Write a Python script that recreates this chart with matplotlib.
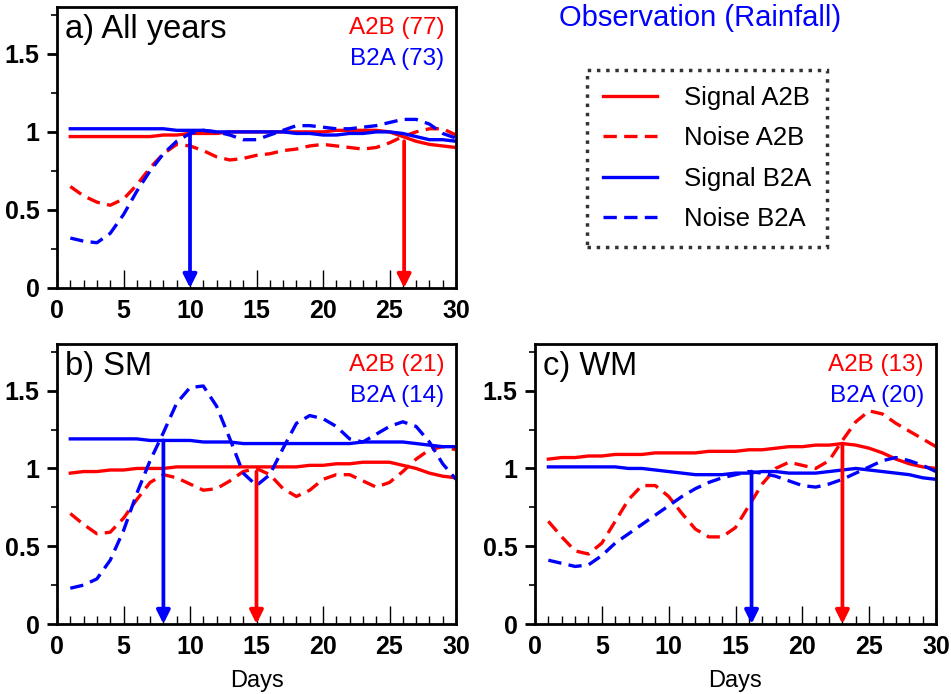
import matplotlib
matplotlib.use("Agg")
from matplotlib import pyplot as plt
from matplotlib.lines import Line2D
from matplotlib.ticker import MultipleLocator, FixedLocator, FuncFormatter
import numpy as np

plt.rcParams['font.family'] = ['Liberation Sans', 'DejaVu Sans']

days = np.arange(1, 31)

# a) All years
a_sig_a2b = [0.97, 0.97, 0.97, 0.97, 0.97, 0.97, 0.97, 0.98, 0.98, 0.99,
             0.99, 0.99, 1.00, 1.00, 1.00, 1.00, 1.00, 1.00, 1.00, 1.00,
             1.01, 1.01, 1.01, 1.01, 1.00, 0.97, 0.94, 0.92, 0.91, 0.90]
a_noise_a2b = [0.65, 0.59, 0.55, 0.53, 0.57, 0.66, 0.77, 0.86, 0.92, 0.91,
               0.88, 0.84, 0.82, 0.83, 0.85, 0.86, 0.88, 0.89, 0.91, 0.92,
               0.91, 0.90, 0.89, 0.90, 0.93, 0.97, 1.00, 1.02, 1.02, 0.98]
a_sig_b2a = [1.02, 1.02, 1.02, 1.02, 1.02, 1.02, 1.02, 1.02, 1.01, 1.01,
             1.01, 1.00, 1.00, 1.00, 1.00, 1.00, 1.00, 0.99, 0.99, 0.98,
             0.98, 0.99, 0.99, 1.00, 1.00, 0.99, 0.97, 0.95, 0.95, 0.94]
a_noise_b2a = [0.32, 0.30, 0.29, 0.35, 0.47, 0.62, 0.75, 0.86, 0.94, 0.99,
               1.01, 1.00, 0.98, 0.95, 0.95, 0.98, 1.01, 1.04, 1.04, 1.03,
               1.02, 1.02, 1.03, 1.04, 1.06, 1.08, 1.08, 1.05, 0.99, 0.96]

# b) SM
b_sig_a2b = [0.97, 0.98, 0.98, 0.99, 0.99, 1.00, 1.00, 1.00, 1.01, 1.01,
             1.01, 1.01, 1.01, 1.01, 1.01, 1.01, 1.01, 1.01, 1.02, 1.02,
             1.03, 1.03, 1.04, 1.04, 1.04, 1.02, 1.00, 0.97, 0.95, 0.94]
b_noise_a2b = [0.71, 0.64, 0.58, 0.59, 0.68, 0.80, 0.91, 0.96, 0.94, 0.90,
               0.86, 0.87, 0.92, 0.98, 1.00, 0.96, 0.87, 0.82, 0.86, 0.93,
               0.96, 0.96, 0.92, 0.88, 0.91, 0.98, 1.06, 1.12, 1.14, 1.12]
b_sig_b2a = [1.19, 1.19, 1.19, 1.19, 1.19, 1.19, 1.18, 1.18, 1.18, 1.18,
             1.17, 1.17, 1.17, 1.16, 1.16, 1.16, 1.16, 1.16, 1.16, 1.16,
             1.16, 1.16, 1.17, 1.17, 1.17, 1.17, 1.16, 1.15, 1.14, 1.14]
b_noise_b2a = [0.23, 0.25, 0.29, 0.41, 0.60, 0.84, 1.05, 1.23, 1.42, 1.52,
               1.53, 1.40, 1.19, 0.97, 0.89, 0.96, 1.13, 1.29, 1.34, 1.32,
               1.27, 1.19, 1.17, 1.22, 1.27, 1.30, 1.27, 1.17, 1.03, 0.93]

# c) WM
c_sig_a2b = [1.06, 1.07, 1.07, 1.08, 1.08, 1.09, 1.09, 1.09, 1.10, 1.10,
             1.10, 1.10, 1.11, 1.11, 1.11, 1.12, 1.12, 1.13, 1.14, 1.14,
             1.15, 1.15, 1.16, 1.15, 1.13, 1.10, 1.06, 1.03, 1.01, 1.00]
c_noise_a2b = [0.66, 0.56, 0.47, 0.45, 0.52, 0.66, 0.80, 0.89, 0.89, 0.82,
               0.71, 0.61, 0.56, 0.56, 0.62, 0.76, 0.90, 1.00, 1.04, 1.02,
               1.00, 1.05, 1.18, 1.30, 1.37, 1.35, 1.29, 1.24, 1.19, 1.14]
c_sig_b2a = [1.01, 1.01, 1.01, 1.01, 1.01, 1.01, 1.00, 1.00, 0.99, 0.98,
             0.97, 0.96, 0.96, 0.96, 0.97, 0.97, 0.98, 0.98, 0.97, 0.97,
             0.97, 0.98, 0.99, 1.00, 0.99, 0.98, 0.97, 0.96, 0.94, 0.93]
c_noise_b2a = [0.41, 0.39, 0.37, 0.38, 0.44, 0.52, 0.58, 0.64, 0.70, 0.76,
               0.82, 0.87, 0.91, 0.94, 0.96, 0.98, 0.97, 0.95, 0.92, 0.89,
               0.88, 0.90, 0.93, 0.97, 1.01, 1.05, 1.07, 1.05, 1.02, 0.98]

panel_titles = ["a) All years", "b) SM", "c) WM"]
count_a2b = [77, 21, 13]
count_b2a = [73, 14, 20]
arrow_day_b2a = [10, 8, 16.2]
arrow_top_b2a = [1.0, 1.18, 0.98]
arrow_day_a2b = [26.1, 15, 23]
arrow_top_a2b = [0.94, 0.98, 1.16]

series = [
    (a_sig_a2b, a_noise_a2b, a_sig_b2a, a_noise_b2a),
    (b_sig_a2b, b_noise_a2b, b_sig_b2a, b_noise_b2a),
    (c_sig_a2b, c_noise_a2b, c_sig_b2a, c_noise_b2a),
]

W, H = 951, 694
fig = plt.figure(figsize=(W / 100, H / 100), dpi=100)

# axes boxes in pixels: left, top, right, bottom
boxes = [(57, 7, 456, 288), (57, 344, 456, 624), (535, 344, 936, 624)]

RED = '#ff0000'
BLUE = '#0000ff'
lw = 2.4
dash = (0, (4, 2.2))

def fmt(v, pos):
    return ('%g' % v)

for i, (l, t, r, b) in enumerate(boxes):
    ax = fig.add_axes([l / W, 1 - b / H, (r - l) / W, (b - t) / H])
    s_a2b, n_a2b, s_b2a, n_b2a = series[i]
    ax.plot(days, s_a2b, color=RED, lw=lw, label='Signal A2B')
    ax.plot(days, n_a2b, color=RED, lw=lw, ls=dash, label='Noise A2B')
    ax.plot(days, s_b2a, color=BLUE, lw=lw, label='Signal B2A')
    ax.plot(days, n_b2a, color=BLUE, lw=lw, ls=dash, label='Noise B2A')

    for xd, yt, c in [(arrow_day_b2a[i], arrow_top_b2a[i], BLUE),
                      (arrow_day_a2b[i], arrow_top_a2b[i], RED)]:
        ax.annotate('', xy=(xd, 0), xytext=(xd, yt),
                    arrowprops=dict(arrowstyle='-|>', color=c, lw=2.7,
                                    mutation_scale=20, shrinkA=0, shrinkB=0))

    ax.set_xlim(0, 30)
    ax.set_ylim(0, 1.8)
    ax.xaxis.set_major_locator(MultipleLocator(5))
    ax.xaxis.set_minor_locator(FixedLocator([d for d in range(1, 30) if d % 5]))
    ax.yaxis.set_major_locator(MultipleLocator(0.5))
    ax.yaxis.set_minor_locator(FixedLocator([0.25, 0.75, 1.25, 1.75]))
    ax.yaxis.set_major_formatter(FuncFormatter(fmt))
    ax.tick_params(axis='x', which='major', direction='in', length=13, width=1.0,
                   labelsize=18, pad=8)
    ax.tick_params(axis='x', which='minor', direction='in', length=6, width=1.0)
    ax.tick_params(axis='y', which='major', direction='out', length=7.5, width=2,
                   labelsize=18, pad=5)
    ax.tick_params(axis='y', which='minor', direction='out', length=4.5, width=1.2)
    for lab in ax.get_xticklabels() + ax.get_yticklabels():
        lab.set_fontweight('bold')
    for sp in ax.spines.values():
        sp.set_linewidth(2)

    ax.text(0.02, 0.975, panel_titles[i], transform=ax.transAxes, fontsize=23.5,
            ha='left', va='top')
    ax.text(0.97, 0.965, 'A2B (%d)' % count_a2b[i], transform=ax.transAxes,
            fontsize=17.5, color=RED, ha='right', va='top')
    ax.text(0.97, 0.855, 'B2A (%d)' % count_b2a[i], transform=ax.transAxes,
            fontsize=17.5, color=BLUE, ha='right', va='top')
    if i > 0:
        ax.set_xlabel('Days', fontsize=17, labelpad=8)

fig.text(700 / W, 1 - 18 / H, 'Observation (Rainfall)', color=BLUE, fontsize=21,
         ha='center', va='center')

handles = [Line2D([], [], color=RED, lw=lw),
           Line2D([], [], color=RED, lw=lw, ls=dash),
           Line2D([], [], color=BLUE, lw=lw),
           Line2D([], [], color=BLUE, lw=lw, ls=dash)]
labels = ['Signal A2B', 'Noise A2B', 'Signal B2A', 'Noise B2A']
leg = fig.legend(handles, labels, loc='upper left',
                 bbox_to_anchor=(587 / W, 1 - 70 / H), borderaxespad=0,
                 fontsize=18.5, fancybox=False, frameon=True,
                 handlelength=2.1, handletextpad=1.05, labelspacing=0.64,
                 borderpad=0.62)
frame = leg.get_frame()
frame.set_edgecolor('black')
frame.set_linestyle(':')
frame.set_linewidth(2.5)

fig.savefig('out.png', dpi=100)
